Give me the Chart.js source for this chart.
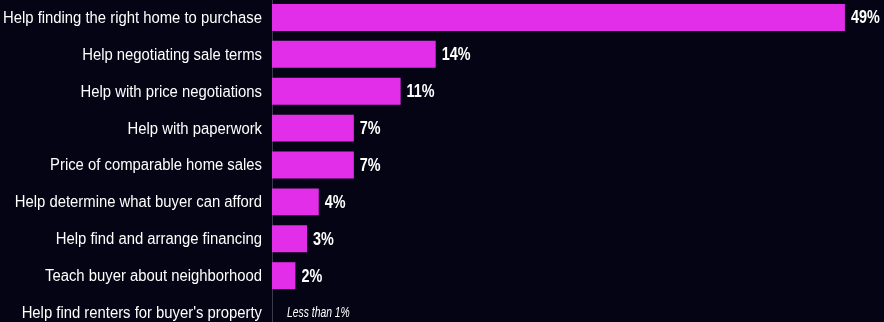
<!DOCTYPE html>
<html>
<head>
<meta charset="utf-8">
<script src="https://cdn.jsdelivr.net/npm/chart.js@4.4.1/dist/chart.umd.min.js"></script>
<style>
  html, body { margin: 0; padding: 0; background: #050414; overflow: hidden; }
  #wrap { position: absolute; left: 0; top: -1px; width: 884px; height: 332px; }
</style>
</head>
<body>
<div id="wrap"><canvas id="chart"></canvas></div>
<script>
const categories = [
  'Help finding the right home to purchase',
  'Help negotiating sale terms',
  'Help with price negotiations',
  'Help with paperwork',
  'Price of comparable home sales',
  'Help determine what buyer can afford',
  'Help find and arrange financing',
  'Teach buyer about neighborhood',
  "Help find renters for buyer's property"
];
const shares = [49, 14, 11, 7, 7, 4, 3, 2, 0];
const shareLabels = ['49%', '14%', '11%', '7%', '7%', '4%', '3%', '2%', 'Less than 1%'];

const FONT = '"Liberation Sans", Arial, sans-serif';
const AXIS_W = 272;

// condensed text: no narrow font installed, so squeeze horizontally
function narrowText(ctx, text, x, y, sx) {
  ctx.save();
  ctx.translate(x, y);
  ctx.scale(sx, 1);
  ctx.fillText(text, 0, 0);
  ctx.restore();
}

// Category labels + value labels
const textLabels = {
  id: 'textLabels',
  afterDatasetsDraw(chart) {
    const ctx = chart.ctx;
    const yScale = chart.scales.y;
    const meta = chart.getDatasetMeta(0);
    ctx.save();
    ctx.fillStyle = '#ffffff';
    ctx.textBaseline = 'middle';

    // categories, right aligned against the axis
    ctx.font = '16px ' + FONT;
    ctx.textAlign = 'right';
    const sx = 259 / ctx.measureText(categories[0]).width;
    categories.forEach((c, i) => {
      narrowText(ctx, c, AXIS_W - 10, yScale.getPixelForTick(i) + 1, sx);
    });

    // values
    ctx.textAlign = 'left';
    meta.data.forEach((bar, i) => {
      if (shares[i] > 0) {
        ctx.font = 'bold 18px ' + FONT;
        narrowText(ctx, shareLabels[i], bar.x + 6, bar.y + 1, 0.8);
      } else {
        ctx.font = 'italic 14px ' + FONT;
        narrowText(ctx, shareLabels[i], bar.x + 15, bar.y + 1, 0.74);
      }
    });
    ctx.restore();
  }
};

new Chart(document.getElementById('chart').getContext('2d'), {
  type: 'bar',
  data: {
    labels: categories,
    datasets: [{
      data: shares,
      backgroundColor: '#e22ee9',
      borderWidth: 0,
      categoryPercentage: 1,
      barPercentage: 0.73
    }]
  },
  options: {
    indexAxis: 'y',
    responsive: true,
    maintainAspectRatio: false,
    animation: false,
    layout: { padding: { left: 0, right: 4, top: 0, bottom: 0 } },
    plugins: { legend: { display: false }, tooltip: { enabled: false } },
    scales: {
      x: { display: false, min: 0, max: 52 },
      y: {
        grid: { display: false, drawTicks: false },
        border: { display: true, color: '#3a3a48', width: 1 },
        ticks: { display: false },
        afterFit(scale) { scale.width = AXIS_W; }
      }
    }
  },
  plugins: [textLabels]
});
</script>
</body>
</html>
